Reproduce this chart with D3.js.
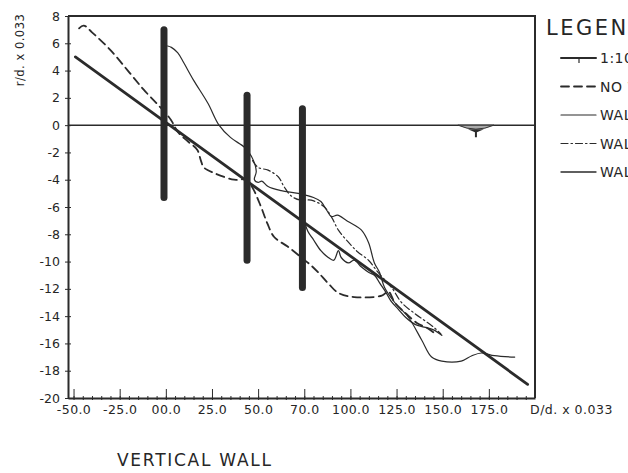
<!DOCTYPE html>
<html>
<head>
<meta charset="utf-8">
<script src="https://cdn.jsdelivr.net/npm/d3@7"></script>
<style>
  body { margin: 0; background: #fff; }
  svg { display: block; }
  text { font-family: "DejaVu Sans", sans-serif; fill: #262626; }
  .axis path, .axis line { stroke: #2b2b2b; }
  .line { fill: none; stroke: #2b2b2b; stroke-linejoin: round; stroke-linecap: round; }
</style>
</head>
<body>
<svg id="chart" width="628" height="473"></svg>
<script>
'use strict';

// x axis ticks (the original sheet prints "70.0" under 75)
let xTicks      = [-50, -25, 0, 25, 50, 75, 100, 125, 150, 175],
    xTickLabels = ["-50.0", "-25.0", "00.0", "25.0", "50.0", "70.0", "100.0", "125.0", "150.0", "175.0"],
    yTicks      = [8, 6, 4, 2, 0, -2, -4, -6, -8, -10, -12, -14, -16, -18, -20];

// 1:10 reference slope
let slope = [[-49, 5], [196, -19]];

// no wall (dashed)
let noWall = [[-47, 7.1], [-44.5, 7.3], [-40, 6.8], [-30, 5.5], [-20.6, 4.0], [-12, 2.6], [-4.3, 1.5],
  [2.7, 0.4], [6.5, -0.5], [12, -1.2], [17, -1.8], [19, -2.6], [20.6, -3.1], [26, -3.5], [37, -4.0],
  [43.5, -4.0], [47, -4.6], [51.6, -6.0], [55, -7.2], [58.7, -8.2], [66, -8.9], [73.4, -9.7],
  [78, -10.2], [82.6, -10.8], [88, -11.6], [93.5, -12.3], [102, -12.6], [117, -12.5], [120.6, -12.2],
  [124, -13.0], [130, -13.8], [136, -14.5], [142, -14.9], [146, -15.3]];

// wall 1 (thin solid, from the first wall)
let wall1 = [[1, 5.8], [3, 5.7], [6.5, 5.3], [9.8, 4.55], [15, 3.3], [22.8, 1.6], [28.8, 0.0],
  [35, -0.9], [42.4, -1.6], [45, -2.0], [47.5, -2.6], [49, -3.4], [48, -4.0], [50, -4.2], [52, -4.1],
  [55.4, -4.5], [62.5, -4.8], [71.7, -5.0], [80, -5.3], [84, -5.6], [87, -6.2], [89.7, -6.7],
  [93, -6.6], [98, -7.0], [103, -7.4], [106, -7.7], [109.8, -8.6], [113, -10.1], [115.8, -10.8],
  [118.5, -11.9], [124, -13.0], [131.5, -14.1], [138.6, -15.75], [144, -17.0], [149.5, -17.3],
  [160, -17.3], [165.8, -16.9], [171, -16.7], [178, -16.9], [189, -17.0]];

// wall 2 (dash-dot)
let wall2 = [[47, -2.6], [50, -3.1], [55.4, -3.3], [61, -3.8], [64, -4.5], [68, -5.2], [73, -5.5],
  [78.8, -5.5], [85.9, -6.0], [90, -6.8], [93.5, -7.7], [99, -8.6], [104, -9.3], [109.8, -9.9],
  [115, -10.8], [122.3, -11.9], [127.7, -13.0], [134.8, -13.8], [140, -14.3], [145, -14.8], [149, -15.3]];

// wall 3 (solid, from the third wall)
let wall3 = [[75, -7.0], [77, -7.8], [80, -8.4], [84, -9.2], [88, -9.7], [91, -9.9], [93.5, -9.2],
  [95, -9.7], [99, -10.1], [102, -9.9], [106, -10.4], [110, -10.8], [113, -11.0], [116, -11.6],
  [119, -12.2], [122, -12.9], [126, -13.5], [130, -14.1], [135, -14.6], [140, -14.8], [145, -15.0],
  [149.5, -15.4]];

// the three walls: position, top, bottom
let walls = [{x: -1, top: 7.0, bottom: -5.3},
             {x: 44, top: 2.2, bottom: -9.9},
             {x: 74, top: 1.2, bottom: -11.9}];

// still water level mark
let swl = {x: 168, y: 0};

let legendNames = ["1:10 SLOPE", "NO WALL", "WALL 1", "WALL 2", "WALL 3"];

let svg = d3.select("#chart"),
    x = d3.scaleLinear().domain([-53, 200]).range([68, 535]),
    y = d3.scaleLinear().domain([-20, 8]).range([398, 16]);

let line = d3.line()
    .x(function(d) { return x(d[0]); })
    .y(function(d) { return y(d[1]); })
    .curve(d3.curveCatmullRom.alpha(0.5));

let styles = [
  {data: slope,  width: 2.8, dash: null},
  {data: noWall, width: 1.8, dash: "8,5"},
  {data: wall1,  width: 1.2, dash: null},
  {data: wall2,  width: 1.2, dash: "7,3,1.5,3"},
  {data: wall3,  width: 1.3, dash: null}
];

// frame
svg.append("path")
    .attr("d", "M" + x(-53) + "," + y(8) + "H" + x(200) + "V" + y(-20))
    .attr("fill", "none")
    .attr("stroke", "#2b2b2b")
    .attr("stroke-width", 2);

// zero line
svg.append("line")
    .attr("x1", x(-53)).attr("x2", x(200))
    .attr("y1", y(0)).attr("y2", y(0))
    .attr("stroke", "#2b2b2b")
    .attr("stroke-width", 1.5);

// x axis: major ticks up, minor ticks every 5
let gx = svg.append("g")
    .attr("class", "axis")
    .attr("transform", "translate(0," + y(-20) + ")")
    .call(d3.axisBottom(x).tickValues(xTicks).tickSizeInner(-9).tickSizeOuter(0).tickPadding(7)
      .tickFormat(function(d, i) { return xTickLabels[i]; }));
gx.select(".domain").attr("stroke-width", 2);
gx.selectAll("text").attr("font-size", 12.5).attr("letter-spacing", 0.4);

svg.append("g")
    .attr("class", "axis")
    .attr("transform", "translate(0," + (y(-20) + 2) + ")")
    .call(d3.axisBottom(x).tickValues(d3.range(-50, 200, 5)).tickSize(-4).tickFormat(""))
  .select(".domain").remove();

svg.append("text")
    .attr("x", 530)
    .attr("y", 414)
    .attr("font-size", 12.5)
    .attr("letter-spacing", 0.5)
    .text("D/d. x 0.033");

// y axis
let gy = svg.append("g")
    .attr("class", "axis")
    .attr("transform", "translate(" + x(-53) + ",0)")
    .call(d3.axisLeft(y).tickValues(yTicks).tickSizeInner(3).tickSizeOuter(0).tickPadding(5));
gy.select(".domain").attr("stroke-width", 2);
gy.selectAll(".tick").append("line").attr("x2", 3).attr("stroke", "#2b2b2b");
gy.selectAll("text").attr("font-size", 12.5).text(function(d) { return d; });

svg.append("text")
    .attr("transform", "translate(24,50) rotate(-90)")
    .attr("text-anchor", "middle")
    .attr("font-size", 11.5)
    .attr("letter-spacing", 0.5)
    .text("r/d. x 0.033");

// series
svg.selectAll(".series")
    .data(styles)
  .enter().append("path")
    .attr("class", "series line")
    .attr("stroke-width", function(d) { return d.width; })
    .attr("stroke-dasharray", function(d) { return d.dash; })
    .attr("d", function(d) { return line(d.data); });

// walls
svg.selectAll(".wall")
    .data(walls)
  .enter().append("line")
    .attr("class", "wall")
    .attr("x1", function(d) { return x(d.x); })
    .attr("x2", function(d) { return x(d.x); })
    .attr("y1", function(d) { return y(d.top); })
    .attr("y2", function(d) { return y(d.bottom); })
    .attr("stroke", "#2b2b2b")
    .attr("stroke-width", 7)
    .attr("stroke-linecap", "round");

// water level mark
let sx = x(swl.x), sy = y(swl.y);
svg.append("path")
    .attr("d", "M" + (sx - 18) + "," + sy + "Q" + sx + "," + (sy + 8) + " " + (sx + 18) + "," + sy + "Z")
    .attr("fill", "#aaa").attr("stroke", "#333").attr("stroke-width", 1);
svg.append("path")
    .attr("d", "M" + (sx - 8) + "," + (sy + 4) + "L" + (sx + 8) + "," + (sy + 4) + "L" + (sx + 1) + "," + (sy + 7) + "V" + (sy + 12) + "H" + (sx - 1) + "V" + (sy + 7) + "Z")
    .attr("fill", "#2b2b2b");

// legend (cut by the page edge, as on the sheet)
svg.append("text")
    .attr("x", 546)
    .attr("y", 35)
    .attr("font-size", 21)
    .attr("letter-spacing", 2.5)
    .text("LEGEND");

let lg = svg.selectAll(".legend")
    .data(styles)
  .enter().append("g")
    .attr("class", "legend")
    .attr("transform", function(d, i) { return "translate(0," + (58 + i * 28.5) + ")"; });
lg.append("line")
    .attr("class", "line")
    .attr("x1", 561).attr("x2", 596)
    .attr("stroke-width", function(d, i) { return i == 0 ? 2 : d.width; })
    .attr("stroke-dasharray", function(d) { return d.dash; });
lg.filter(function(d, i) { return i == 0; }).append("line")
    .attr("x1", 579).attr("x2", 579).attr("y1", 0).attr("y2", 5)
    .attr("stroke", "#2b2b2b").attr("stroke-width", 1.2);
lg.append("text")
    .attr("x", 600)
    .attr("y", 5)
    .attr("font-size", 14)
    .attr("letter-spacing", 0.5)
    .text(function(d, i) { return legendNames[i]; });

// caption
svg.append("text")
    .attr("x", 117)
    .attr("y", 466)
    .attr("font-size", 17)
    .attr("textLength", 154)
    .text("VERTICAL WALL");
</script>
</body>
</html>
